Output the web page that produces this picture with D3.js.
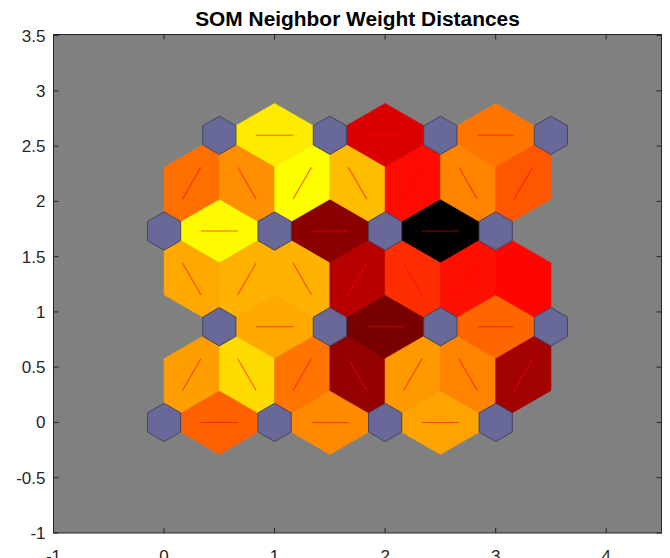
<!DOCTYPE html>
<html>
<head>
<meta charset="utf-8">
<script src="https://cdn.jsdelivr.net/npm/d3@7"></script>
<style>
  html, body { margin: 0; padding: 0; background: #ffffff; }
  svg { display: block; }
  text { font-family: "Liberation Sans", Arial, Helvetica, sans-serif; }
</style>
</head>
<body>
<svg id="chart" width="670" height="558"></svg>
<script>
// Hexagonal SOM layer: 4 x 4 neurons
const gridCols = 4;
const gridRows = 4;

// Normalised neighbour distances (0 = closest / yellow, 1 = farthest / black)
// Links inside a row, left to right, one list per row (bottom row first)
const rowLinkDist = [
  [0.31, 0.23, 0.18],
  [0.17, 0.76, 0.30],
  [0.01, 0.73, 1.00],
  [0.04, 0.57, 0.27]
];
// Links between row r and row r+1, ordered left to right
const crossLinkDist = [
  [0.19, 0.07, 0.27, 0.71, 0.20, 0.24, 0.68],
  [0.17, 0.15, 0.15, 0.64, 0.41, 0.47, 0.49],
  [0.28, 0.22, 0.00, 0.13, 0.48, 0.24, 0.33]
];

const xTicks = [-1, 0, 1, 2, 3, 4];
const yTicks = [-1, -0.5, 0, 0.5, 1, 1.5, 2, 2.5, 3, 3.5];
const chartTitle = "SOM Neighbor Weight Distances";

// ---- layout ----
const W = 670, H = 558;
const plot = { left: 53.5, right: 661.5, top: 34.5, bottom: 533 };
const x = d3.scaleLinear().domain([-1, 4.5]).range([plot.left, plot.right]);
const y = d3.scaleLinear().domain([-1, 3.51]).range([plot.bottom, plot.top]);

const color = d3.scaleLinear()
  .domain([0, 0.5, 1])
  .range(["#ffff00", "#ff0000", "#000000"])
  .interpolate(d3.interpolateRgb);

const svg = d3.select("#chart");
svg.append("rect").attr("width", W).attr("height", H).attr("fill", "#ffffff");

// axes background
svg.append("rect")
  .attr("x", plot.left).attr("y", plot.top)
  .attr("width", plot.right - plot.left).attr("height", plot.bottom - plot.top)
  .attr("fill", "#808080");

// ---- topology (hextop positions) ----
const rowStep = Math.sqrt(0.75);
const neurons = [];
for (let r = 0; r < gridRows; r++) {
  for (let c = 0; c < gridCols; c++) {
    neurons.push({ r, c, px: c + (r % 2 ? 0.5 : 0), py: r * rowStep });
  }
}
const at = (r, c) => neurons[r * gridCols + c];

const links = [];
for (let r = 0; r < gridRows; r++) {
  for (let c = 0; c < gridCols - 1; c++) {
    links.push({ a: at(r, c), b: at(r, c + 1), d: rowLinkDist[r][c] });
  }
}
for (let r = 0; r < gridRows - 1; r++) {
  const pairs = [];
  for (let c = 0; c < gridCols; c++) {
    for (let k = 0; k < gridCols; k++) {
      const a = at(r, c), b = at(r + 1, k);
      if (Math.abs(Math.abs(a.px - b.px) - 0.5) < 1e-6) pairs.push({ a, b, m: (a.px + b.px) / 2 });
    }
  }
  pairs.sort((p, q) => p.m - q.m);
  pairs.forEach((p, i) => links.push({ a: p.a, b: p.b, d: crossLinkDist[r][i] }));
}

// rhombus patch spanning each link: the two neurons plus the centres of the
// triangles on either side of the link
const halfWidth = Math.sqrt(0.75) / 3;
function rhombus(l) {
  const dx = l.b.px - l.a.px, dy = l.b.py - l.a.py;
  const len = Math.hypot(dx, dy);
  const nx = -dy / len * halfWidth, ny = dx / len * halfWidth;
  const mx = (l.a.px + l.b.px) / 2, my = (l.a.py + l.b.py) / 2;
  return [[l.a.px, l.a.py], [mx + nx, my + ny], [l.b.px, l.b.py], [mx - nx, my - ny]];
}
const toPath = pts => "M" + pts.map(p => x(p[0]) + "," + y(p[1])).join("L") + "Z";

const g = svg.append("g");
g.selectAll("path.link").data(links).join("path")
  .attr("class", "link")
  .attr("d", d => toPath(rhombus(d)))
  .attr("fill", d => color(d.d))
  .attr("stroke", d => color(d.d))
  .attr("stroke-width", 0.6)
  .attr("stroke-linejoin", "miter");

// link direction markers from 1/3 to 2/3 of the way between neurons
g.selectAll("line.dir").data(links).join("line")
  .attr("class", "dir")
  .attr("x1", d => x((2 * d.a.px + d.b.px) / 3))
  .attr("y1", d => y((2 * d.a.py + d.b.py) / 3))
  .attr("x2", d => x((d.a.px + 2 * d.b.px) / 3))
  .attr("y2", d => y((d.a.py + 2 * d.b.py) / 3))
  .attr("stroke", "#ff0000")
  .attr("stroke-opacity", 0.6)
  .attr("stroke-width", 1.1);

// neuron hexagons
const shapeX = [-1, 0, 1, 1, 0, -1].map(v => v * 0.5 * 0.3);
const shapeY = [1, 2, 1, -1, -2, -1].map(v => v * Math.sqrt(0.75) / 3 * 0.3);
g.selectAll("path.neuron").data(neurons).join("path")
  .attr("class", "neuron")
  .attr("d", n => toPath(shapeX.map((sx, i) => [n.px + sx, n.py + shapeY[i]])))
  .attr("fill", "#696999")
  .attr("stroke", "#444460")
  .attr("stroke-width", 1);

// ---- axes box and ticks ----
const axisColor = "#262626";
const tickLen = 5;
const axes = svg.append("g").attr("stroke", axisColor).attr("stroke-width", 1).attr("fill", "none");
axes.append("rect")
  .attr("x", plot.left).attr("y", plot.top)
  .attr("width", plot.right - plot.left).attr("height", plot.bottom - plot.top);
xTicks.forEach(t => {
  axes.append("line").attr("x1", x(t)).attr("x2", x(t)).attr("y1", plot.bottom).attr("y2", plot.bottom - tickLen);
  axes.append("line").attr("x1", x(t)).attr("x2", x(t)).attr("y1", plot.top).attr("y2", plot.top + tickLen);
});
yTicks.forEach(t => {
  axes.append("line").attr("y1", y(t)).attr("y2", y(t)).attr("x1", plot.left).attr("x2", plot.left + tickLen);
  axes.append("line").attr("y1", y(t)).attr("y2", y(t)).attr("x1", plot.right).attr("x2", plot.right - tickLen);
});

svg.append("g").selectAll("text").data(yTicks).join("text")
  .attr("x", plot.left - 8)
  .attr("y", d => y(d) + 6)
  .attr("text-anchor", "end")
  .attr("font-size", 17)
  .attr("fill", axisColor)
  .text(d => String(d));

// x tick labels sit just below the axes, partly beyond the bottom edge
svg.append("g").selectAll("text").data(xTicks).join("text")
  .attr("x", d => x(d))
  .attr("y", plot.bottom + 29)
  .attr("text-anchor", "middle")
  .attr("font-size", 17)
  .attr("fill", axisColor)
  .text(d => String(d));

svg.append("text")
  .attr("x", (plot.left + plot.right) / 2)
  .attr("y", 25.5)
  .attr("text-anchor", "middle")
  .attr("font-size", 20.9)
  .attr("font-weight", "bold")
  .attr("fill", "#000000")
  .text(chartTitle);
</script>
</body>
</html>
